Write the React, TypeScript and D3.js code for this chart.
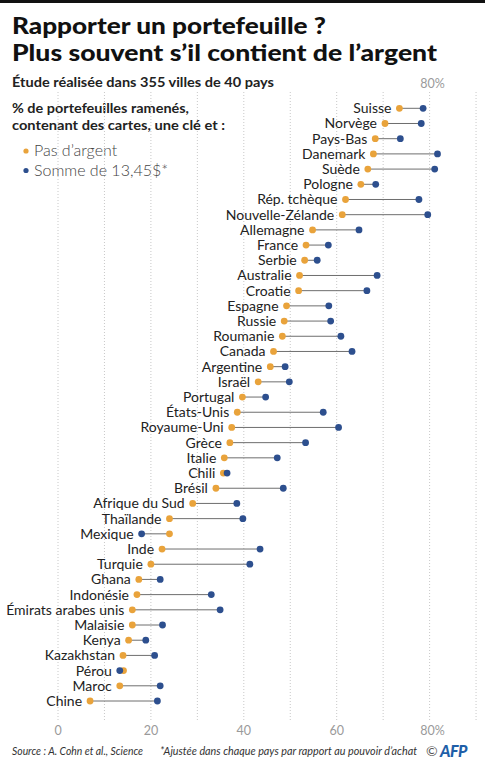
import React from "react";
import * as d3 from "d3";

const countries = [
  "Suisse", "Norvège", "Pays-Bas", "Danemark", "Suède", "Pologne", "Rép. tchèque",
  "Nouvelle-Zélande", "Allemagne", "France", "Serbie", "Australie", "Croatie", "Espagne",
  "Russie", "Roumanie", "Canada", "Argentine", "Israël", "Portugal", "États-Unis",
  "Royaume-Uni", "Grèce", "Italie", "Chili", "Brésil", "Afrique du Sud", "Thaïlande",
  "Mexique", "Inde", "Turquie", "Ghana", "Indonésie", "Émirats arabes unis", "Malaisie",
  "Kenya", "Kazakhstan", "Pérou", "Maroc", "Chine",
];

const noMoney = [
  73.5, 70.4, 68.3, 67.9, 66.7, 65.2, 61.9,
  61.2, 54.8, 53.4, 53.1, 52.0, 51.8, 49.2,
  48.7, 48.3, 46.4, 45.7, 43.1, 39.7, 38.6,
  37.4, 37.0, 35.8, 35.6, 34.0, 29.0, 24.0,
  24.0, 22.4, 20.0, 17.4, 17.0, 16.0, 16.0,
  15.2, 14.0, 14.1, 13.3, 6.9,
];

const withMoney = [
  78.6, 78.2, 73.7, 81.7, 81.1, 68.4, 77.7,
  79.6, 64.8, 58.2, 55.8, 68.7, 66.5, 58.3,
  58.7, 60.9, 63.3, 48.9, 49.8, 44.7, 57.1,
  60.4, 53.3, 47.2, 36.4, 48.5, 38.5, 39.8,
  18.0, 43.5, 41.3, 22.0, 33.0, 34.9, 22.5,
  18.9, 20.8, 13.3, 22.0, 21.4,
];

const gridValues = [0, 10, 20, 30, 40, 50, 60, 70, 80, 90];
const tickValues = [0, 20, 40, 60, 80];

const title1 = "Rapporter un portefeuille ?";
const title2 = "Plus souvent s’il contient de l’argent";
const subtitle = "Étude réalisée dans 355 villes de 40 pays";
const note1 = "% de portefeuilles ramenés,";
const note2 = "contenant des cartes, une clé et :";
const legendLabels = ["Pas d’argent", "Somme de 13,45$*"];
const sourceText = "Source : A. Cohn et al., Science";
const footnote = "*Ajustée dans chaque pays par rapport au pouvoir d’achat";

const ORANGE = "#e9a33b";
const BLUE = "#2d4f8e";
const FONT = "Lato, 'Open Sans', sans-serif";

export default function App() {
  const W = 485;
  const H = 768;
  const x = d3.scaleLinear().domain([0, 80]).range([58, 429.6]);
  const y = d3.scalePoint<string>().domain(countries).range([108.3, 701]);

  return (
    <svg
      width={W}
      height={H}
      style={{ position: "absolute", left: 0, top: 0, background: "#fff" }}
      fontFamily={FONT}
    >
      <rect x={0} y={0} width={W} height={H} fill="#fff" />
      <rect x={0} y={0} width={W} height={3} fill="#111" />

      <text x={12} y={34} fontSize={23} fontWeight={900} fill="#111" textLength={314} lengthAdjust="spacingAndGlyphs">
        {title1}
      </text>
      <text x={12} y={61} fontSize={23} fontWeight={900} fill="#111" textLength={425} lengthAdjust="spacingAndGlyphs">
        {title2}
      </text>
      <text x={12} y={87} fontSize={14} fontWeight={700} fill="#222" textLength={262} lengthAdjust="spacingAndGlyphs">
        {subtitle}
      </text>
      <text x={12} y={113} fontSize={13.5} fontWeight={700} fill="#222" textLength={177} lengthAdjust="spacingAndGlyphs">
        {note1}
      </text>
      <text x={12} y={130} fontSize={13.5} fontWeight={700} fill="#222" textLength={213} lengthAdjust="spacingAndGlyphs">
        {note2}
      </text>

      {legendLabels.map((lab, i) => (
        <g key={lab}>
          <circle cx={26} cy={151 + i * 19.5} r={2.6} fill={i === 0 ? ORANGE : BLUE} />
          <text x={34} y={156 + i * 19.5} fontSize={16} fontWeight={300} fill="#444">
            {lab}
          </text>
        </g>
      ))}

      {gridValues.map((v) => (
        <line
          key={v}
          x1={x(v)}
          x2={x(v)}
          y1={92}
          y2={722}
          stroke="#c8c8c8"
          strokeWidth={1}
          strokeDasharray="1,2"
        />
      ))}

      <text x={x(80)} y={88} fontSize={12.5} fill="#9a9a9a" textAnchor="middle" dx={3}>
        80%
      </text>

      {tickValues.map((v) => (
        <text
          key={v}
          x={x(v)}
          y={735}
          fontSize={12.5}
          fill="#9a9a9a"
          textAnchor="middle"
          dx={v === 80 ? 3 : 0}
        >
          {v === 80 ? "80%" : d3.format("d")(v)}
        </text>
      ))}

      {countries.map((c, i) => {
        const yy = y(c) as number;
        const a = noMoney[i];
        const b = withMoney[i];
        const lo = Math.min(a, b);
        return (
          <g key={c}>
            <line x1={x(a)} x2={x(b)} y1={yy} y2={yy} stroke="#6e6e6e" strokeWidth={1} />
            <circle cx={x(a)} cy={yy} r={3.4} fill={ORANGE} />
            <circle cx={x(b)} cy={yy} r={3.4} fill={BLUE} />
            <text
              x={x(lo) - 8}
              y={yy}
              dy="0.35em"
              fontSize={14}
              fill="#222"
              textAnchor="end"
            >
              {c}
            </text>
          </g>
        );
      })}

      <text x={12} y={755} fontSize={11} fontStyle="italic" fill="#333" textLength={131} lengthAdjust="spacingAndGlyphs">
        {sourceText}
      </text>
      <text x={160} y={755} fontSize={11} fontStyle="italic" fill="#333" textLength={257} lengthAdjust="spacingAndGlyphs">
        {footnote}
      </text>
      <text x={426} y={756} fontSize={14} fill="#555">
        ©
      </text>
      <text x={440} y={757} fontSize={16} fontWeight={900} fontStyle="italic" fill="#1f5fa8" letterSpacing={-0.5}>
        AFP
      </text>
    </svg>
  );
}
